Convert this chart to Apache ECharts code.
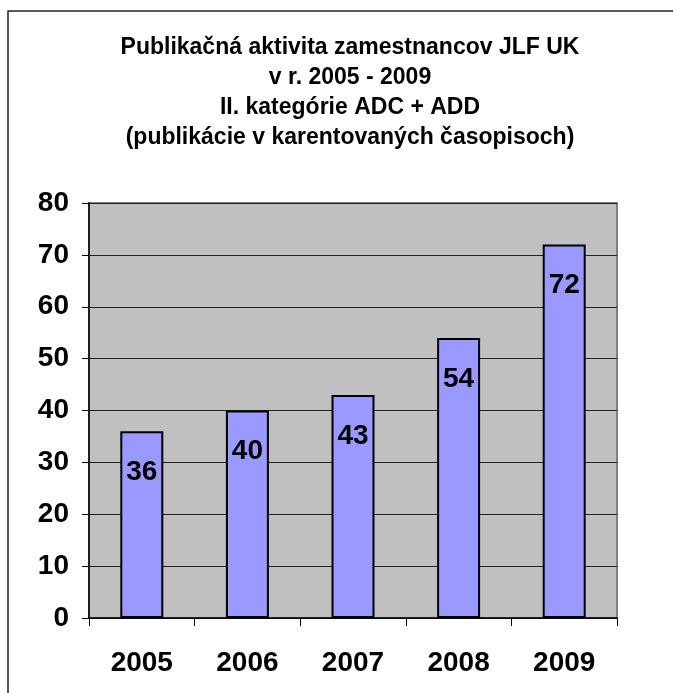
<!DOCTYPE html>
<html lang="sk">
<head>
	<meta charset="UTF-8">
	<title>Publikačná aktivita zamestnancov JLF UK</title>
	<script src="https://cdn.jsdelivr.net/npm/echarts@6/dist/echarts.min.js"></script>
	<style>
		html, body { margin: 0; padding: 0; background: #fff; }
		#chart { width: 673px; height: 693px; }
	</style>
</head>
<body>
	<div id="chart"></div>
	<script>
		// údaje z grafu
		var roky = ['2005', '2006', '2007', '2008', '2009'];
		var pocty = [36, 40, 43, 54, 72];
		var titulok = [
			'Publikačná aktivita zamestnancov JLF UK',
			'v r. 2005 - 2009',
			'II. kategórie ADC + ADD',
			'(publikácie v karentovaných časopisoch)'
		];

		var pismo = '"Liberation Sans", Arial, sans-serif';

		var chart = echarts.init(document.getElementById('chart'));
		chart.setOption({
			animation: false,
			backgroundColor: '#fff',
			title: {
				text: titulok.join('\n'),
				left: 345,
				top: 28,
				textAlign: 'center',
				textStyle: {
					fontFamily: pismo,
					fontWeight: 'bold',
					fontSize: 23,
					lineHeight: 30,
					color: '#000'
				}
			},
			// rám okolo grafu (vidno len ľavú a hornú hranu)
			graphic: [{
				type: 'polyline',
				shape: { points: [[8, 700], [8, 11], [673, 11]] },
				style: { fill: 'none', stroke: '#222', lineWidth: 1.5 },
				silent: true
			}],
			grid: {
				left: 89,
				top: 203,
				right: 56,
				bottom: 75,
				show: true,
				backgroundColor: '#c0c0c0',
				borderColor: '#808080',
				borderWidth: 2
			},
			xAxis: {
				type: 'category',
				data: roky,
				axisLine: { lineStyle: { color: '#000', width: 1.5 } },
				axisTick: { show: true, length: 8, lineStyle: { color: '#000' } },
				axisLabel: {
					margin: 31,
					fontFamily: pismo,
					fontWeight: 'bold',
					fontSize: 28,
					color: '#000'
				}
			},
			yAxis: {
				type: 'value',
				min: 0,
				max: 80,
				interval: 10,
				axisLine: { show: true, lineStyle: { color: '#000', width: 1.5 } },
				axisTick: { show: true, length: 7, lineStyle: { color: '#000' } },
				splitLine: { lineStyle: { color: '#222', width: 1 } },
				axisLabel: {
					margin: 20,
					fontFamily: pismo,
					fontWeight: 'bold',
					fontSize: 28,
					color: '#000'
				}
			},
			series: [{
				type: 'bar',
				data: pocty,
				barWidth: 43,
				itemStyle: { color: '#9999ff', borderColor: '#000', borderWidth: 2 },
				label: {
					show: true,
					position: 'insideTop',
					distance: 27,
					fontFamily: pismo,
					fontWeight: 'bold',
					fontSize: 28,
					color: '#000'
				}
			}]
		});
	</script>
</body>
</html>
